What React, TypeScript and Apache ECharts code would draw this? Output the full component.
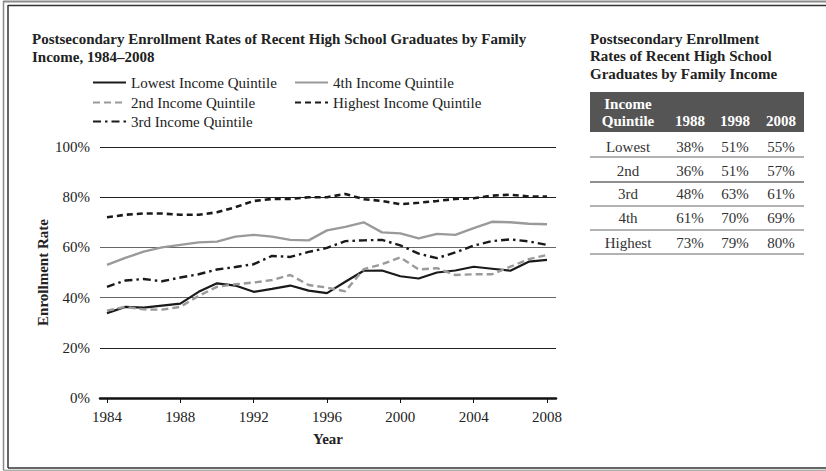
import React, { useEffect, useRef } from 'react';
import * as echarts from 'echarts';

const years = [1984, 1985, 1986, 1987, 1988, 1989, 1990, 1991, 1992, 1993, 1994, 1995, 1996, 1997, 1998, 1999, 2000, 2001, 2002, 2003, 2004, 2005, 2006, 2007, 2008];
const tickYears = [1984, 1988, 1992, 1996, 2000, 2004, 2008];

const lowest = [33.8, 36.3, 36, 36.8, 37.6, 42.3, 45.7, 44.8, 42.3, 43.5, 44.8, 42.8, 41.8, 46.3, 50.7, 50.8, 48.5, 47.6, 50, 50.8, 52.3, 51.5, 50.7, 54.3, 55];
const second = [34.8, 36.3, 35.3, 35.2, 36.3, 40.7, 44.3, 45.3, 46, 47, 49, 45, 44, 42.5, 51.3, 53.3, 56, 51.2, 51.7, 49, 49.3, 49.3, 52.3, 55.3, 57];
const third = [44.3, 46.8, 47.4, 46.5, 48, 49.3, 51.2, 52.2, 53.3, 56.6, 56.2, 58.2, 59.8, 62.5, 62.8, 63, 60.8, 57.5, 55.7, 58, 60.7, 62.5, 63.2, 62.4, 61];
const fourth = [53, 55.8, 58.3, 60, 61, 62, 62.3, 64.3, 65, 64.3, 63, 62.8, 66.8, 68.2, 70, 66, 65.6, 63.6, 65.4, 65, 67.7, 70.2, 70, 69.4, 69.2];
const highest = [72, 73, 73.5, 73.5, 73, 73, 74, 76, 78.5, 79.3, 79.3, 80, 80, 81.3, 79.2, 78.5, 77.2, 77.8, 78.5, 79.3, 79.6, 80.6, 81, 80.3, 80.3];

const seriesNames = ['Lowest Income Quintile', '2nd Income Quintile', '3rd Income Quintile', '4th Income Quintile', 'Highest Income Quintile'];

const chartTitle = 'Postsecondary Enrollment Rates of Recent High School Graduates by Family\nIncome, 1984–2008';
const tableTitle = 'Postsecondary Enrollment\nRates of Recent High School\nGraduates by Family Income';
const tableHeaderFirst = 'Income\nQuintile';
const tableYears = ['1988', '1998', '2008'];
const tableQuintiles = ['Lowest', '2nd', '3rd', '4th', 'Highest'];
const tableValues = [
  [38, 51, 55],
  [36, 51, 57],
  [48, 63, 61],
  [61, 70, 69],
  [73, 79, 80],
];

const FONT = '"Liberation Serif", "Times New Roman", serif';
const FS = 15;

export default function App() {
  const ref = useRef<HTMLDivElement>(null);

  useEffect(() => {
    document.body.style.margin = '0';
    if (!ref.current) return;
    const chart = echarts.init(ref.current, null, { renderer: 'svg' });

    const pairs = (arr: number[]) => years.map((y, i) => [y, arr[i]]);

    const black = '#1a1a1a';
    const gray = '#9a9a9a';

    const seriesDefs = [
      { name: seriesNames[0], data: lowest, color: black, type: 'solid' as any, width: 2.2 },
      { name: seriesNames[1], data: second, color: gray, type: [7, 4] as any, width: 2.4 },
      { name: seriesNames[2], data: third, color: black, type: [8, 4, 2.5, 4] as any, width: 2.4 },
      { name: seriesNames[3], data: fourth, color: gray, type: 'solid' as any, width: 2.4 },
      { name: seriesNames[4], data: highest, color: black, type: [6, 4] as any, width: 2.6 },
    ];

    const legendPos = [
      { left: 92, top: 75 },
      { left: 92, top: 95 },
      { left: 92, top: 114 },
      { left: 294, top: 75 },
      { left: 294, top: 95 },
    ];

    const legends = seriesNames.map((n, i) => ({
      data: [n],
      left: legendPos[i].left,
      top: legendPos[i].top,
      padding: 0,
      itemWidth: 33,
      itemHeight: 14,
      itemStyle: { opacity: 0 },
      textStyle: { fontFamily: FONT, fontSize: FS, color: '#222' },
      selectedMode: false,
    }));

    // Table graphics
    const tX0 = 590;
    const tX1 = 804;
    const labelCx = 628;
    const colCx = [690, 735, 781];
    const rowCy = [147, 171, 194, 218, 243];
    const rowLineY = [157, 182, 206, 230, 254];

    const tableGraphics: any[] = [];
    tableGraphics.push({
      type: 'text',
      left: tX0,
      top: 30,
      style: { text: tableTitle, font: `bold ${FS}px ${FONT}`, lineHeight: 17.5, fill: '#222' },
    });
    tableGraphics.push({
      type: 'rect',
      shape: { x: tX0, y: 92, width: tX1 - tX0, height: 40 },
      style: { fill: '#555555' },
    });
    tableGraphics.push({
      type: 'text',
      x: labelCx,
      y: 112,
      style: { text: tableHeaderFirst, font: `bold ${FS}px ${FONT}`, lineHeight: 17, fill: '#fff', align: 'center', verticalAlign: 'middle' },
    });
    tableYears.forEach((yr, j) => {
      tableGraphics.push({
        type: 'text',
        x: colCx[j],
        y: 121,
        style: { text: yr, font: `bold ${FS}px ${FONT}`, fill: '#fff', align: 'center', verticalAlign: 'middle' },
      });
    });
    tableQuintiles.forEach((q, i) => {
      tableGraphics.push({
        type: 'text',
        x: labelCx,
        y: rowCy[i],
        style: { text: q, font: `${FS}px ${FONT}`, fill: '#333', align: 'center', verticalAlign: 'middle' },
      });
      tableValues[i].forEach((v, j) => {
        tableGraphics.push({
          type: 'text',
          x: colCx[j],
          y: rowCy[i],
          style: { text: `${v}%`, font: `${FS}px ${FONT}`, fill: '#333', align: 'center', verticalAlign: 'middle' },
        });
      });
      tableGraphics.push({
        type: 'line',
        shape: { x1: tX0, y1: rowLineY[i], x2: tX1, y2: rowLineY[i] },
        style: { stroke: i === 1 ? '#222' : '#666', lineWidth: 1.2 },
      });
    });

    // Frame
    const frame: any[] = [
      { type: 'line', shape: { x1: 3, y1: 1.5, x2: 826, y2: 1.5 }, style: { stroke: '#8a8a8a', lineWidth: 2 } },
      { type: 'line', shape: { x1: 8, y1: 5.5, x2: 826, y2: 5.5 }, style: { stroke: '#333', lineWidth: 1.5 } },
      { type: 'line', shape: { x1: 3.5, y1: 1, x2: 3.5, y2: 470 }, style: { stroke: '#8a8a8a', lineWidth: 1.5 } },
      { type: 'line', shape: { x1: 8, y1: 5, x2: 8, y2: 468 }, style: { stroke: '#333', lineWidth: 1.5 } },
      { type: 'line', shape: { x1: 8, y1: 468, x2: 826, y2: 468 }, style: { stroke: '#333', lineWidth: 1.5 } },
      { type: 'line', shape: { x1: 3, y1: 470.2, x2: 826, y2: 470.2 }, style: { stroke: '#8a8a8a', lineWidth: 1 } },
    ];

    const option: any = {
      animation: false,
      backgroundColor: '#ffffff',
      textStyle: { fontFamily: FONT },
      title: {
        text: chartTitle,
        left: 32,
        top: 30,
        padding: 0,
        textStyle: { fontFamily: FONT, fontSize: FS, fontWeight: 'bold', color: '#222', lineHeight: 18 },
      },
      legend: legends,
      grid: { left: 100, right: 270, top: 147, bottom: 73, containLabel: false },
      xAxis: {
        type: 'value',
        min: 1983.62,
        max: 2008.49,
        name: 'Year',
        nameLocation: 'middle',
        nameGap: 33,
        nameTextStyle: { fontFamily: FONT, fontSize: FS, fontWeight: 'bold', color: '#222' },
        axisLine: { show: true, lineStyle: { color: '#111', width: 2.5 } },
        axisTick: { show: true, customValues: tickYears, length: 5, lineStyle: { color: '#111', width: 1 } },
        axisLabel: { customValues: tickYears, fontFamily: FONT, fontSize: FS, color: '#222', margin: 11, formatter: (v: number) => String(Math.round(v)) },
        splitLine: { show: false },
      },
      yAxis: {
        type: 'value',
        min: 0,
        max: 100,
        interval: 20,
        name: 'Enrollment Rate',
        nameLocation: 'middle',
        nameGap: 50,
        nameMoveOverlap: false,
        nameTextStyle: { fontFamily: FONT, fontSize: FS, fontWeight: 'bold', color: '#222' },
        axisLine: { show: false },
        axisTick: { show: false },
        axisLabel: { formatter: '{value}%', fontFamily: FONT, fontSize: FS, color: '#222', margin: 10 },
        splitLine: { show: true, lineStyle: { color: ['#222', '#222', '#666', '#666', '#222', '#222'], width: 1.2 } },
      },
      series: seriesDefs.map((s) => ({
        name: s.name,
        type: 'line',
        data: pairs(s.data),
        symbol: 'none',
        showSymbol: false,
        lineStyle: { color: s.color, width: s.width, type: s.type },
        itemStyle: { color: s.color },
        z: 3,
      })),
      graphic: [...frame, ...tableGraphics],
    };

    chart.setOption(option);
    return () => chart.dispose();
  }, []);

  return <div ref={ref} style={{ width: 826, height: 471 }} />;
}
